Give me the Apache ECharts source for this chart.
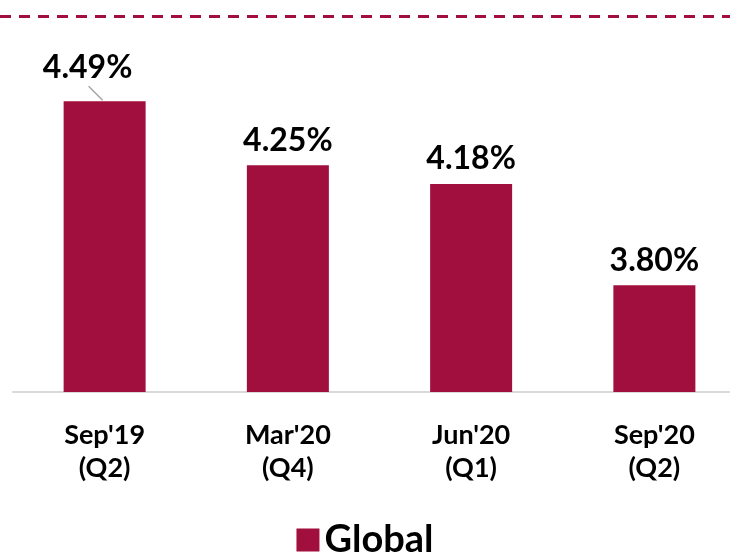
<!DOCTYPE html>
<html><head><meta charset="utf-8">
<script src="https://cdn.jsdelivr.net/npm/echarts@6/dist/echarts.min.js"></script>
<style>html,body{margin:0;padding:0;background:#fff}#c{width:730px;height:560px}</style>
</head><body><div id="c"></div>
<script>
const categories = ["Sep'19\n(Q2)", "Mar'20\n(Q4)", "Jun'20\n(Q1)", "Sep'20\n(Q2)"];
const globalValues = [4.49, 4.25, 4.18, 3.80];
const seriesName = 'Global';
const targetLine = 4.81;

const color = '#A00F3D';
const font = 'Lato, "Open Sans", sans-serif';
const chart = echarts.init(document.getElementById('c'));
chart.setOption({
  animation: false,
  grid: { left: 13, width: 733, top: 16, bottom: 168, containLabel: false, outerBoundsMode: 'none' },
  legend: {
    data: [{ name: seriesName, icon: 'rect' }], bottom: -4, left: 'center',
    itemWidth: 23, itemHeight: 23, itemGap: 12,
    textStyle: { fontFamily: font, fontWeight: 'bold', fontSize: 38, color: '#000' }
  },
  xAxis: {
    type: 'category', data: categories,
    axisLine: { lineStyle: { color: '#d9d9d9', width: 2 } },
    axisTick: { show: false },
    axisLabel: { margin: 27, fontFamily: font, fontWeight: 'bold', fontSize: 27, lineHeight: 33, color: '#000' }
  },
  yAxis: { type: 'value', min: 3.4, max: 4.81, show: false, splitLine: { show: false } },
  series: [{
    name: seriesName, type: 'bar', barWidth: 82,
    data: globalValues,
    itemStyle: { color: color },
    label: {
      show: true, position: 'top', distance: 9,
      fontFamily: font, fontWeight: 'bold', fontSize: 32, color: '#000',
      formatter: p => p.value.toFixed(2) + '%'
    },
    labelLayout: p => p.dataIndex === 0 ? { dx: -17, dy: -9 } : {},
    markLine: {
      silent: true, symbol: 'none', label: { show: false },
      lineStyle: { color: color, type: [11, 8], width: 3 },
      data: [[{ x: 0, yAxis: targetLine }, { x: 730, yAxis: targetLine }]]
    }
  }, {
    // leader line from the first bar's top to its shifted label
    name: 'leader', type: 'custom', silent: true, z: 5,
    data: [[0, globalValues[0]]],
    renderItem: (params, api) => {
      const p = api.coord([api.value(0), api.value(1)]);
      return {
        type: 'line',
        shape: { x1: p[0] - 2, y1: p[1] - 1, x2: p[0] - 16, y2: p[1] - 15 },
        style: { stroke: '#a6a6a6', lineWidth: 1.5 }
      };
    }
  }]
});
</script></body></html>
